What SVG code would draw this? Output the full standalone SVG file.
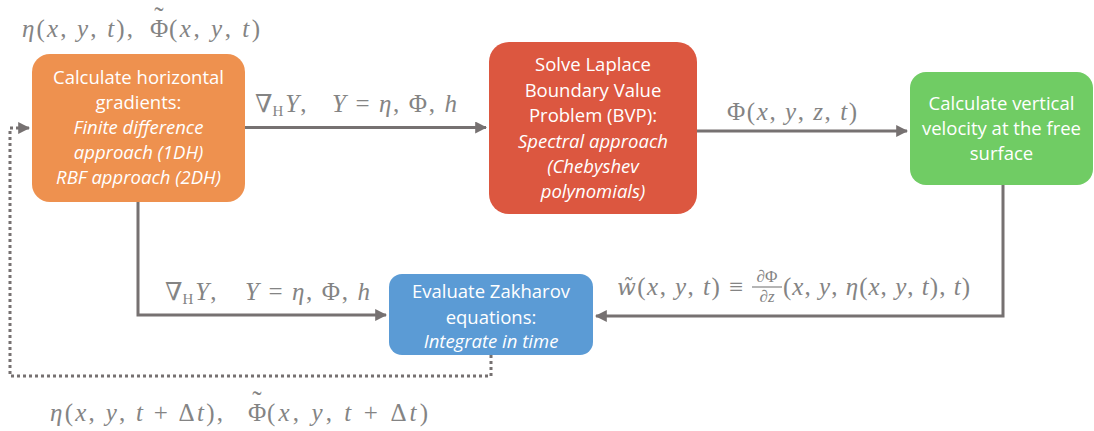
<svg xmlns="http://www.w3.org/2000/svg" width="1094" height="431" viewBox="0 0 1094 431">
<defs>
<marker id="ah" viewBox="0 0 10 10" refX="9" refY="5" markerWidth="4" markerHeight="4" orient="auto-start-reverse" markerUnits="strokeWidth">
<path d="M0,0 L10,5 L0,10 z" fill="#767171"/>
</marker>
<style>
.box text{font-family:"Open Sans","Liberation Sans",sans-serif;font-size:18.5px;fill:#ffffff;text-anchor:middle}
.it{font-style:italic}
.m{font-family:"Liberation Serif","DejaVu Serif",serif;font-size:25px;fill:#848484}
.dv{font-family:"DejaVu Serif",serif;font-size:22px}
.v{font-style:italic}
.s{font-size:15px}
.f{font-size:17px;text-anchor:middle}
.c{fill:none;stroke:#767171;stroke-width:3}
.d{fill:none;stroke:#767171;stroke-width:3;stroke-dasharray:3 3}
</style>
</defs>
<rect width="1094" height="431" fill="#ffffff"/>
<g id="connectors">
<path class="c" d="M245,127.5 H486" marker-end="url(#ah)"/>
<path class="c" d="M697,131 H907" marker-end="url(#ah)"/>
<path class="c" d="M1003,185 V316 H596" marker-end="url(#ah)"/>
<path class="c" d="M138,202 V315 H386" marker-end="url(#ah)"/>
<path class="d" d="M491,355 V376 H10 V128 H24"/>
<path class="c" d="M22,128 H29" marker-end="url(#ah)"/>
</g>
<g id="labels">
<text class="m" x="22" y="37" textLength="111" lengthAdjust="spacing"><tspan class="v">η</tspan>(<tspan class="v">x</tspan>, <tspan class="v">y</tspan>, <tspan class="v">t</tspan>),</text>
<text class="m" x="150" y="37">Φ<tspan dx="-14" dy="-11" font-size="28">˜</tspan></text>
<text class="m" x="169" y="37" textLength="91" lengthAdjust="spacing">(<tspan class="v">x</tspan>, <tspan class="v">y</tspan>, <tspan class="v">t</tspan>)</text>

<text class="m" x="255" y="112">∇<tspan class="s" dy="4">H</tspan><tspan class="v" dx="2" dy="-4">Y</tspan><tspan dx="1">,</tspan></text>
<text class="m" x="332" y="112" textLength="125" lengthAdjust="spacing"><tspan class="v">Y</tspan> = <tspan class="v">η</tspan>, Φ, <tspan class="v">h</tspan></text>

<text class="m" x="727" y="120" textLength="130" lengthAdjust="spacing">Φ(<tspan class="v">x</tspan>, <tspan class="v">y</tspan>, <tspan class="v">z</tspan>, <tspan class="v">t</tspan>)</text>

<text class="m" x="165" y="300">∇<tspan class="s" dy="4">H</tspan><tspan class="v" dx="2" dy="-4">Y</tspan><tspan dx="1">,</tspan></text>
<text class="m" x="245" y="300" textLength="125" lengthAdjust="spacing"><tspan class="v">Y</tspan> = <tspan class="v">η</tspan>, Φ, <tspan class="v">h</tspan></text>

<text class="m" x="617" y="295" textLength="126" lengthAdjust="spacing"><tspan class="dv v">w̃</tspan>(<tspan class="v">x</tspan>, <tspan class="v">y</tspan>, <tspan class="v">t</tspan>) ≡</text>
<text class="m f" x="767" y="282"><tspan class="v">∂</tspan>Φ</text>
<line x1="752" y1="287" x2="782" y2="287" stroke="#848484" stroke-width="1.2"/>
<text class="m f" x="767" y="302"><tspan class="v">∂z</tspan></text>
<text class="m" x="783" y="295" textLength="187" lengthAdjust="spacing">(<tspan class="v">x</tspan>, <tspan class="v">y</tspan>, <tspan class="v">η</tspan>(<tspan class="v">x</tspan>, <tspan class="v">y</tspan>, <tspan class="v">t</tspan>), <tspan class="v">t</tspan>)</text>

<text class="m" x="50" y="421" textLength="173" lengthAdjust="spacing"><tspan class="v">η</tspan>(<tspan class="v">x</tspan>, <tspan class="v">y</tspan>, <tspan class="v">t</tspan> + Δ<tspan class="v">t</tspan>),</text>
<text class="m" x="248" y="421">Φ<tspan dx="-14" dy="-11" font-size="28">˜</tspan></text>
<text class="m" x="267" y="421" textLength="161" lengthAdjust="spacing">(<tspan class="v">x</tspan>, <tspan class="v">y</tspan>, <tspan class="v">t</tspan> + Δ<tspan class="v">t</tspan>)</text>
</g>
<g id="n-gradients" class="box">
<rect x="32" y="54" width="213" height="148" rx="18" fill="#EE914F"/>
<text x="138.5" y="84">Calculate horizontal</text>
<text x="138.5" y="109">gradients:</text>
<text x="138.5" y="134" class="it">Finite difference</text>
<text x="138.5" y="159" class="it">approach  (1DH)</text>
<text x="138.5" y="184" class="it">RBF approach  (2DH)</text>
</g>
<g id="n-laplace" class="box">
<rect x="489" y="42" width="208" height="172" rx="20" fill="#DC5740"/>
<text x="593" y="71">Solve Laplace</text>
<text x="593" y="97">Boundary Value</text>
<text x="593" y="122">Problem (BVP):</text>
<text x="593" y="148" class="it">Spectral approach</text>
<text x="593" y="173" class="it">(Chebyshev</text>
<text x="593" y="198" class="it">polynomials)</text>
</g>
<g id="n-vertical" class="box">
<rect x="910" y="72" width="183" height="113" rx="16" fill="#70CC64"/>
<text x="1001.5" y="110">Calculate vertical</text>
<text x="1001.5" y="135">velocity at the free</text>
<text x="1001.5" y="160">surface</text>
</g>
<g id="n-zakharov" class="box">
<rect x="389" y="274" width="204" height="81" rx="13" fill="#5B9BD5"/>
<text x="491" y="298">Evaluate Zakharov</text>
<text x="491" y="324">equations:</text>
<text x="491" y="348" class="it">Integrate in time</text>
</g>
</svg>
